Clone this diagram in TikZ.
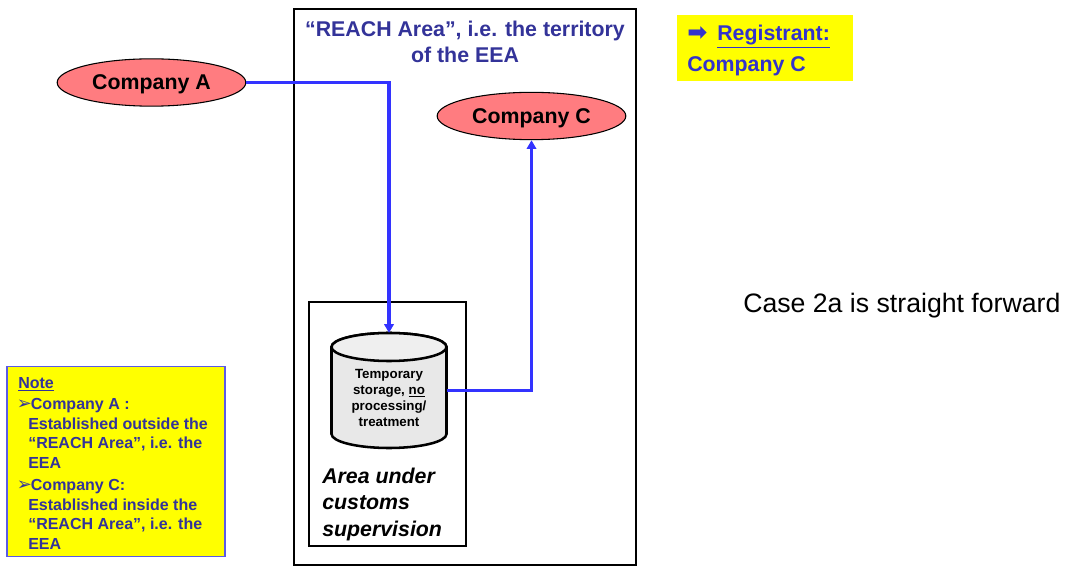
\documentclass[tikz,border=0pt]{standalone}
\usepackage{fontspec}
\setmainfont{Liberation Sans}
\newfontfamily\symfont{DejaVu Sans}
\usetikzlibrary{shapes.geometric,arrows.meta}
\definecolor{linkblue}{RGB}{51,51,255}
\definecolor{titleblue}{RGB}{51,51,204}
\definecolor{noteblue}{RGB}{51,51,153}
\definecolor{redfill}{RGB}{255,124,128}
\definecolor{drumgrey}{RGB}{232,232,232}
\definecolor{pureyellow}{RGB}{255,255,0}
\definecolor{noteedge}{RGB}{90,90,230}
\tikzset{
  x=0.75pt,y=-0.75pt,
  company/.style={ellipse,draw=black,line width=0.8pt,fill=redfill,minimum width=141.5pt,minimum height=35.5pt,inner sep=0pt,text depth=0pt,font=\fontsize{16}{19}\selectfont\bfseries},
  frame/.style={draw=black,line width=2.1pt,fill=white},
  link/.style={draw=linkblue,line width=2.3pt,-{Triangle[length=6.5pt,width=7pt]}},
  txt/.style={inner sep=0pt,align=left,anchor=north west},
  notetxt/.style={txt,text=noteblue,font=\fontsize{12}{14.6}\selectfont\bfseries}
}
\newcommand{\notebullet}{\makebox[9.5pt][l]{\hspace*{-1pt}\symfont\fontsize{13.5}{14.6}\selectfont ➢}}
\begin{document}
\begin{tikzpicture}
\useasboundingbox (0,0) rectangle (1067,566);
\path[frame] (294,9) rectangle (636,565);
\path[frame] (309,302) rectangle (466,546);
\node[inner sep=0pt,align=center,text=noteblue,font=\fontsize{16}{19.5}\selectfont\bfseries] (title) at (465,42) {“REACH Area”, i.e. the territory\\of the EEA};
\node[company] (a) at (151.5,82.5) {Company A};
\node[company] (c) at (531.5,116) {Company C};
\node[inner sep=0pt,minimum width=86pt,minimum height=86pt] (drum) at (389,390.5) {};
\draw[draw=black,line width=1.9pt,fill=drumgrey] (331.5,347) -- (331.5,434) arc[start angle=180,end angle=360,x radius=57.5,y radius=-14] -- (446.5,347) arc[start angle=0,end angle=180,x radius=57.5,y radius=-14] -- cycle;
\draw[draw=black,line width=1.9pt,fill=drumgrey!70!white] (389,347) ellipse[x radius=57.5,y radius=14];
\node[inner sep=0pt,align=center,font=\fontsize{10}{12}\selectfont\bfseries] (drumtext) at (389,398) {Temporary\\storage, \underline{no}\\processing/\\treatment};
\node[txt,font=\fontsize{16}{20}\selectfont\bfseries\itshape] (area) at (322,467.5) {Area under\\customs\\supervision};
\coordinate (abend) at (drum.north |- a.east);
\coordinate (cbend) at (c.south |- drum.east);
\draw[link] (a.east) -- (abend) -- (drum.north);
\draw[link] (drum.east) -- (cbend) -- (c.south);
\node[fill=pureyellow,minimum width=132pt,minimum height=49.5pt,inner sep=0pt] (reg) at (765,48) {};
\node[txt,text=titleblue,font=\fontsize{16}{23.2}\selectfont\bfseries] (regtext) at (687,25) {\makebox[22.5pt][l]{\symfont\fontsize{18}{23.2}\selectfont ➡}\underline{Registrant:}\\Company C};
\node[draw=noteedge,line width=0.8pt,fill=pureyellow,minimum width=163.5pt,minimum height=143pt,inner sep=0pt] (note) at (116,461.5) {};
\node[notetxt] (notehead) at (18,377) {\underline{Note}};
\node[notetxt] (noteone) at (18,398.5) {\notebullet Company A :\\\hspace*{7.5pt}Established outside the\\\hspace*{7.5pt}“REACH Area”, i.e. the\\\hspace*{7.5pt}EEA};
\node[notetxt] (notetwo) at (18,479.5) {\notebullet Company C:\\\hspace*{7.5pt}Established inside the\\\hspace*{7.5pt}“REACH Area”, i.e. the\\\hspace*{7.5pt}EEA};
\node[inner sep=0pt,anchor=west,font=\fontsize{20}{24}\selectfont] (case) at (743,306) {Case 2a is straight forward};
\end{tikzpicture}
\end{document}
